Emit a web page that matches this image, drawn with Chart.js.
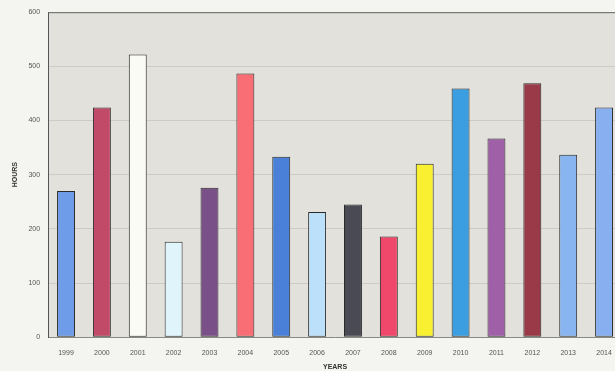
<!DOCTYPE html>
<html>
<head>
<meta charset="utf-8">
<script src="https://cdn.jsdelivr.net/npm/chart.js@4/dist/chart.umd.min.js"></script>
<style>
  html, body { margin: 0; padding: 0; background: #f4f4f0; overflow: hidden; }
  #wrap { width: 626px; height: 371px; }
</style>
</head>
<body>
<div id="wrap"><canvas id="hoursChart" width="626" height="371"></canvas></div>
<script>
const years = ['1999', '2000', '2001', '2002', '2003', '2004', '2005', '2006',
               '2007', '2008', '2009', '2010', '2011', '2012', '2013', '2014'];
const hours = [270, 424, 522, 176, 276, 487, 333, 231, 245, 186, 320, 459, 367, 469, 337, 424];
const barColors = ['#6f9ce8', '#c04a68', '#fbfbf5', '#e0f4fc', '#7a5088', '#f86e74', '#4a80d8', '#bde0fa',
                   '#4a4a55', '#f0486a', '#f8f030', '#3a9ee0', '#a060a8', '#9a3a48', '#88b4f0', '#88b0f0'];

// plot background + top border
const plotBg = {
    id: 'plotBg',
    beforeDraw(chart) {
        const { ctx, chartArea: a } = chart;
        ctx.save();
        ctx.fillStyle = '#e3e1db';
        ctx.fillRect(a.left, a.top, a.right - a.left, a.bottom - a.top);
        ctx.restore();
    },
    afterDraw(chart) {
        const { ctx, chartArea: a } = chart;
        ctx.save();
        ctx.strokeStyle = '#666';
        ctx.lineWidth = 1;
        ctx.beginPath();
        ctx.moveTo(a.left, a.top + 0.5);
        ctx.lineTo(a.right, a.top + 0.5);
        ctx.stroke();
        ctx.restore();
    }
};

new Chart(document.getElementById('hoursChart').getContext('2d'), {
    type: 'bar',
    data: {
        labels: years,
        datasets: [{
            data: hours,
            backgroundColor: barColors,
            borderColor: '#2a2a2a',
            borderWidth: 1,
            borderSkipped: false,
            categoryPercentage: 1,
            barPercentage: 0.5
        }]
    },
    options: {
        responsive: false,
        animation: false,
        plugins: { legend: { display: false }, tooltip: { enabled: false } },
        layout: { padding: { top: 12, right: 4, left: 11, bottom: 0 } },
        scales: {
            x: {
                grid: { display: false },
                border: { display: true, color: '#888' },
                ticks: { color: '#555', font: { family: 'Liberation Sans', size: 7 }, padding: 4 },
                title: { display: true, text: 'YEARS', color: '#333',
                         font: { family: 'Liberation Sans', size: 7, weight: 'bold' }, padding: { top: 1, bottom: 0 } }
            },
            y: {
                min: 0, max: 600,
                grid: { color: 'rgba(200,198,190,0.8)', drawTicks: false },
                border: { display: true, color: '#555' },
                ticks: { stepSize: 100, color: '#555', font: { family: 'Liberation Sans', size: 7 }, padding: 8 },
                title: { display: true, text: 'HOURS', color: '#333',
                         font: { family: 'Liberation Sans', size: 7, weight: 'bold' }, padding: { top: 0, bottom: 1 } }
            }
        }
    },
    plugins: [plotBg]
});
</script>
</body>
</html>
